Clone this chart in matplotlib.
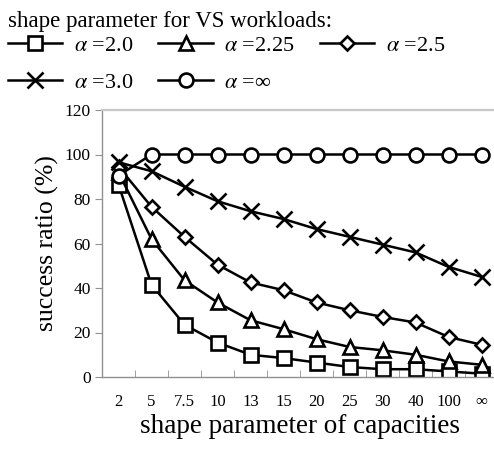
import matplotlib
matplotlib.use("Agg")
import matplotlib.pyplot as plt
import numpy as np

plt.rcParams['font.family'] = ['Liberation Serif', 'DejaVu Serif']
plt.rcParams['mathtext.fontset'] = 'stix'

categories = ["2", "5", "7.5", "10", "13", "15", "20", "25", "30", "40", "100", "\u221e"]
alpha_20 = [86.5, 41.5, 23.5, 15.5, 10, 8.5, 6.5, 4.5, 3.5, 3.5, 2.5, 1.5]
alpha_225 = [92, 62, 43.5, 33.5, 25.5, 21.5, 17, 13.5, 12, 10, 7, 5.5]
alpha_25 = [94.5, 76.5, 63, 50.5, 42.5, 39, 33.5, 30, 27, 24.5, 18, 14.5]
alpha_30 = [96.5, 92.5, 85.5, 79, 74.5, 71, 66.5, 63, 59.5, 56, 49.5, 45]
alpha_inf = [90.5, 100, 100, 100, 100, 100, 100, 100, 100, 100, 100, 100]
series_labels = ["$\\alpha$ =2.0", "$\\alpha$ =2.25", "$\\alpha$ =2.5", "$\\alpha$ =3.0", "$\\alpha$ =\u221e"]
y_ticks = [0, 20, 40, 60, 80, 100, 120]

fig = plt.figure(figsize=(4.94, 4.53), dpi=100)
ax = fig.add_axes([102/494, 1-377/453, 396/494, 267/453])

x = np.arange(len(categories))
styles = [
    (alpha_20, 's', 9.5),
    (alpha_225, '^', 9.5),
    (alpha_25, 'D', 7),
    (alpha_30, 'x', 11),
    (alpha_inf, 'o', 10),
]
handles = []
for (vals, m, ms), lab in zip(styles, series_labels):
    h, = ax.plot(x, vals, color='black', lw=1.8, marker=m, ms=ms,
                 mfc='white', mec='black', mew=1.9, label=lab)
    handles.append(h)

ax.set_xlim(-0.5, len(categories) - 0.5)
ax.set_ylim(0, 120)
ax.set_yticks(y_ticks)
ax.set_xticks(x)
ax.set_xticklabels(categories)
ax.set_xticks(np.arange(-0.5, len(categories), 1.0), minor=True)
ax.tick_params(axis='x', which='major', length=0, pad=12, labelsize=12)
ax.tick_params(axis='x', which='minor', length=5, direction='in', color='#909090')
ax.tick_params(axis='y', which='major', length=5, direction='out', color='#909090', labelsize=12.5, pad=3)

for side in ['left', 'bottom']:
    ax.spines[side].set_color('#909090')
    ax.spines[side].set_linewidth(1.0)
ax.spines['top'].set_color('#c8c8c8')
ax.spines['top'].set_linewidth(1.6)
ax.spines['right'].set_color('#c8c8c8')

ax.set_ylabel("success ratio (%)", fontsize=18.5, labelpad=4)
ax.set_xlabel("shape parameter of capacities", fontsize=19.5, labelpad=3)

fig.text(8/494, 1-22/453, "shape parameter for VS workloads:", fontsize=16.5,
         ha='left', va='center')

order = [0, 3, 1, 4, 2]
fig.legend(handles=[handles[i] for i in order],
           labels=[series_labels[i] for i in order],
           loc='upper left', bbox_to_anchor=(8/494, 1-35/453),
           ncol=3, frameon=False, fontsize=16, handlelength=2.45,
           handletextpad=0.5, columnspacing=1.15, borderaxespad=0,
           borderpad=0, labelspacing=0.75)

fig.savefig("out.png", dpi=100)
